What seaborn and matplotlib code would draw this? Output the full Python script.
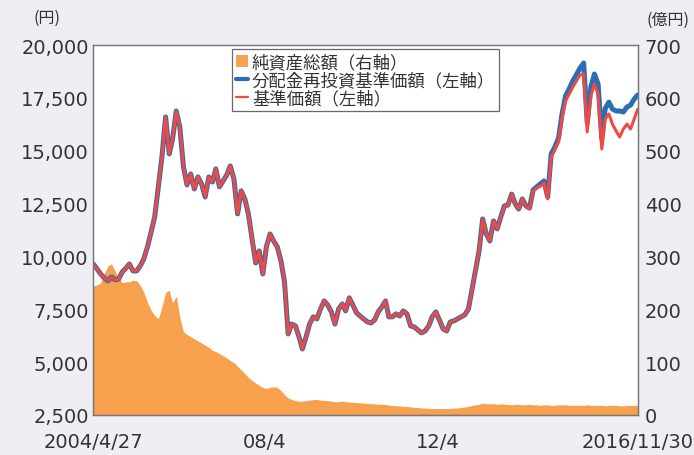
import pandas as pd
import matplotlib
matplotlib.use("Agg")
import matplotlib.pyplot as plt
import matplotlib.ticker as mticker
from matplotlib.patches import Patch
from matplotlib.lines import Line2D
import seaborn as sns

# month-end dates, 2004/4 .. 2016/11
months = pd.date_range("2004-04-30", periods=152, freq="ME")

# 基準価額 (円)
nav = [
    9640, 9410, 9170, 8980, 8840, 9030, 8890, 8930, 9270, 9450,
    9640, 9310, 9310, 9550, 9880, 10450, 11160, 11870, 13290, 14700,
    16600, 14850, 15560, 16880, 16120, 14230, 13380, 13900, 13190, 13760,
    13430, 12810, 13760, 13520, 14140, 13290, 13570, 13850, 14280, 13660,
    12010, 13100, 12720, 12010, 10830, 9690, 10260, 9170, 10450, 11060,
    10730, 10450, 9790, 8790, 6330, 6800, 6710, 6190, 5620, 6190,
    6800, 7140, 7040, 7510, 7890, 7700, 7370, 6800, 7510, 7750,
    7420, 8040, 7700, 7330, 7180, 7040, 6900, 6850, 6990, 7370,
    7610, 7890, 7140, 7140, 7280, 7180, 7420, 7280, 6710, 6660,
    6520, 6380, 6470, 6710, 7140, 7370, 6990, 6570, 6470, 6900,
    6950, 7040, 7140, 7230, 7510, 8460, 9310, 10260, 11770, 11060,
    10730, 11680, 11300, 11870, 12390, 12430, 12950, 12480, 12240, 12720,
    12340, 12240, 13100, 13240, 13330, 13470, 12720, 14700, 15040, 15410,
    16500, 17350, 17680, 18010, 18300, 18580, 18630, 15890, 17590, 18160,
    17680, 15080, 16500, 16740, 16260, 15930, 15650, 16030, 16260, 16030,
    16500, 16970,
]

# 分配金再投資基準価額 (円): same as nav until 2014/4, then read separately
reinvest_tail = [
    12390, 12290, 13140, 13290, 13430, 13570, 12810, 14850, 15180, 15600,
    16690, 17590, 17920, 18300, 18590, 18910, 19150, 16320, 18020, 18630,
    18150, 15560, 17000, 17300, 16970, 16880, 16880, 16830, 17070, 17160,
    17450, 17640,
]
nav_reinvest = nav[:120] + reinvest_tail

# 純資産総額 (億円)
assets = [
    244, 246, 250, 267, 282, 286, 272, 258, 250, 252,
    252, 255, 254, 245, 232, 213, 198, 188, 182, 205,
    232, 236, 212, 225, 185, 157, 152, 148, 144, 140,
    136, 132, 128, 122, 120, 116, 112, 108, 103, 99,
    92, 85, 78, 71, 65, 60, 56, 52, 50, 52,
    53, 52, 46, 38, 32, 29, 27, 26, 26, 27,
    28, 29, 29, 28, 27, 27, 26, 25, 25, 26,
    25, 24, 24, 23, 23, 22, 22, 21, 21, 20,
    20, 20, 18, 18, 17, 17, 16, 16, 15, 14,
    14, 13, 13, 12, 12, 12, 12, 12, 12, 12,
    13, 13, 14, 15, 16, 18, 19, 20, 22, 21,
    21, 21, 20, 21, 20, 20, 19, 20, 20, 19,
    19, 20, 19, 19, 18, 19, 19, 18, 18, 19,
    19, 19, 18, 18, 18, 18, 18, 19, 18, 18,
    18, 18, 17, 18, 18, 18, 17, 17, 18, 18,
    18, 18,
]

x_ticks = ["2004-04-27", "2008-04-18", "2012-04-12", "2016-11-30"]
x_labels = ["2004/4/27", "08/4", "12/4", "2016/11/30"]
left_ticks = [2500, 5000, 7500, 10000, 12500, 15000, 17500, 20000]
right_ticks = [0, 100, 200, 300, 400, 500, 600, 700]

labels = ["純資産総額（右軸）", "分配金再投資基準価額（左軸）", "基準価額（左軸）"]
c_assets = "#f7a04e"
c_reinvest = "#2a6db3"
c_nav = "#ee4a43"
bg = "#eeeef4"
txt = "#333333"


def main():
    sns.set_theme(style="white")
    plt.rcParams["font.family"] = ["DejaVu Sans", "Noto Sans CJK JP"]

    df = pd.DataFrame({"date": months, "nav": nav,
                       "reinvest": nav_reinvest, "assets": assets})

    fig = plt.figure(figsize=(6.94, 4.56), dpi=100, facecolor=bg)
    ax = fig.add_axes([0.134, 0.088, 0.785, 0.811])
    ax2 = ax.twinx()

    # area on the right axis, drawn behind the price lines
    ax2.fill_between(df["date"], 0, df["assets"], color=c_assets, lw=0)
    ax2.set_zorder(1)
    ax.set_zorder(2)
    ax.patch.set_visible(False)
    ax2.patch.set_facecolor("white")
    ax2.patch.set_visible(True)

    sns.lineplot(data=df, x="date", y="reinvest", ax=ax, color=c_reinvest, lw=3.6)
    sns.lineplot(data=df, x="date", y="nav", ax=ax, color=c_nav, lw=2.2)

    xt = pd.to_datetime(x_ticks)
    ax.set_xlim(xt[0], xt[-1])
    ax.set_ylim(2500, 20000)
    ax2.set_ylim(0, 700)

    ax.set_xticks(xt)
    ax.set_xticklabels(x_labels)
    ax.set_yticks(left_ticks)
    ax.yaxis.set_major_formatter(mticker.FuncFormatter(lambda v, p: f"{int(v):,}"))
    ax2.set_yticks(right_ticks)
    ax.set_xlabel("")
    ax.set_ylabel("")

    ax.tick_params(axis="y", length=0, labelsize=14, labelcolor=txt, pad=3)
    ax.tick_params(axis="x", direction="in", length=5, width=1, color="#333333",
                   labelsize=14, labelcolor=txt, pad=12)
    ax2.tick_params(axis="y", length=0, labelsize=14, labelcolor=txt, pad=5)

    for a in (ax, ax2):
        for s in a.spines.values():
            s.set_color("#777777")
            s.set_linewidth(0.9)

    handles = [
        Patch(facecolor=c_assets, edgecolor="none"),
        Line2D([], [], color=c_reinvest, lw=3),
        Line2D([], [], color=c_nav, lw=1.6),
    ]
    leg = ax.legend(handles, labels, loc="upper left", bbox_to_anchor=(0.255, 0.99),
                    borderaxespad=0, frameon=True, fancybox=False,
                    handlelength=0.7, handleheight=0.7, handletextpad=0.2,
                    labelspacing=0.0, borderpad=0.25,
                    prop={"family": ["Noto Sans CJK JP", "DejaVu Sans"], "size": 12.5})
    leg.get_frame().set_edgecolor("#444444")
    leg.get_frame().set_linewidth(0.9)
    for t in leg.get_texts():
        t.set_color(txt)

    fig.text(0.068, 0.96, "(円)", ha="center", va="center", fontsize=11.5, color=txt,
             family=["Noto Sans CJK JP", "DejaVu Sans"])
    fig.text(0.962, 0.955, "(億円)", ha="center", va="center", fontsize=11.5, color=txt,
             family=["Noto Sans CJK JP", "DejaVu Sans"])

    fig.savefig("out.png", dpi=100, facecolor=bg)
    plt.close(fig)


if __name__ == "__main__":
    main()
